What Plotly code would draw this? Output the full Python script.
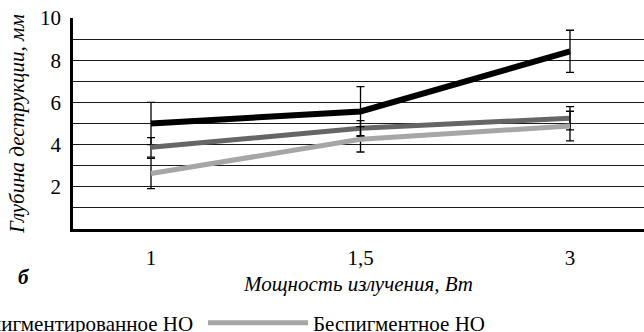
import plotly.graph_objects as go

# ---- data ----
power_labels = ["1", "1,5", "3"]
series_names = ["Пигментированное НО", "Слабопигментированное НО", "Беспигментное НО"]
pigmented = [5.0, 5.57, 8.42]
pigmented_err = [1.0, 1.18, 1.0]
weak_pigmented = [3.87, 4.78, 5.25]
weak_pigmented_err = [0.46, 0.36, 0.55]
non_pigmented = [2.63, 4.25, 4.88]
non_pigmented_err = [0.72, 0.6, 0.7]
y_ticks = [2, 4, 6, 8, 10]

W, H = 644, 332
L, T, R, B = 73, 18, 0, 103
pw, ph = W - L - R, H - T - B

FONT = "Liberation Serif"
FS = 21

def cx(px):
    return px / W

def cy(py):
    return 1 - py / H

fig = go.Figure()

colors = ["#000000", "#666666", "#a6a6a6"]
vals = [pigmented, weak_pigmented, non_pigmented]
errs = [pigmented_err, weak_pigmented_err, non_pigmented_err]
legends = [None, "legend", "legend2"]

for name, v, e, c, lg in zip(series_names, vals, errs, colors, legends):
    kw = dict(showlegend=False) if lg is None else dict(legend=lg)
    fig.add_trace(go.Scatter(
        x=power_labels, y=v, name=name, mode="lines",
        line=dict(color=c, width=6 if c == "#000000" else 5),
        error_y=dict(type="data", array=e, visible=True, color="#000000",
                     thickness=1.3, width=4),
        **kw))

fig.update_layout(
    width=W, height=H,
    margin=dict(l=L, r=R, t=T, b=B, autoexpand=False),
    paper_bgcolor="white", plot_bgcolor="white",
    font=dict(family=FONT, size=FS, color="#000000"),
    xaxis=dict(type="category", range=[-0.3723, 2.3532],
               showgrid=False, zeroline=False,
               showline=True, linecolor="#000000", linewidth=2.5,
               ticks="", ticklabelstandoff=8,
               tickfont=dict(family=FONT, size=FS),
               title=dict(text="<i>Мощность излучения, Вт</i>", standoff=8,
                          font=dict(family=FONT, size=FS))),
    yaxis=dict(range=[0, 10], tickmode="array", tickvals=y_ticks,
               showgrid=True, gridcolor="#1a1a1a", gridwidth=1,
               minor=dict(dtick=1, showgrid=True, gridcolor="#1a1a1a", gridwidth=1),
               zeroline=False, showline=True, linecolor="#000000", linewidth=2.5,
               ticks="", ticklabelstandoff=5,
               tickfont=dict(family=FONT, size=FS),
               title=dict(text="<i>Глубина деструкции, мм</i>", standoff=10,
                          font=dict(family=FONT, size=FS))),
    legend=dict(xref="container", yref="container", x=cx(199), y=cy(323),
                xanchor="right", yanchor="middle", orientation="h",
                itemwidth=100, bgcolor="rgba(0,0,0,0)",
                font=dict(family=FONT, size=FS)),
    legend2=dict(xref="container", yref="container", x=cx(203), y=cy(323),
                 xanchor="left", yanchor="middle", orientation="h",
                 itemwidth=100, bgcolor="rgba(0,0,0,0)",
                 font=dict(family=FONT, size=FS)),
)

fig.add_annotation(xref="paper", yref="paper",
                   x=(24 - L) / pw, y=(T + ph - 277) / ph,
                   xanchor="center", yanchor="middle",
                   text="<b><i>б</i></b>", showarrow=False,
                   font=dict(family=FONT, size=FS))

fig.write_html("out.html")
